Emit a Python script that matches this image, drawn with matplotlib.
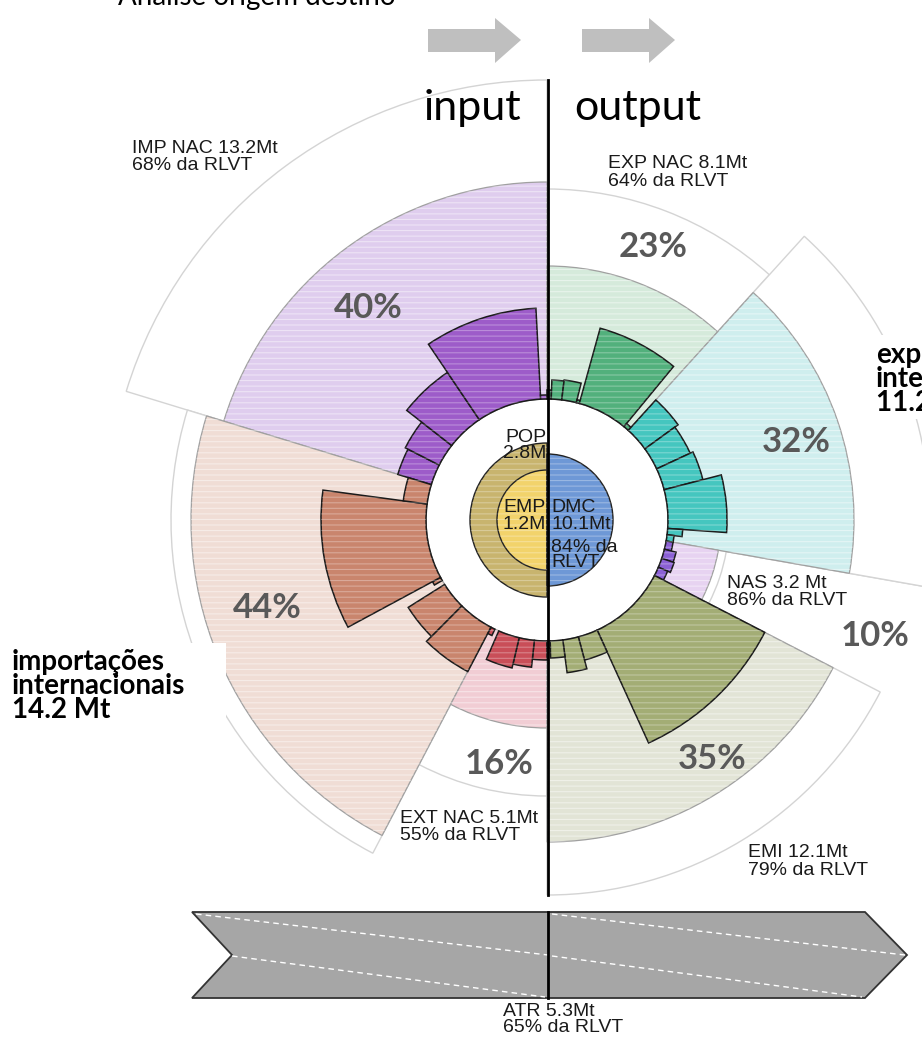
import numpy as np
import matplotlib.pyplot as plt
from matplotlib.patches import Polygon, Rectangle

plt.rcParams['hatch.linewidth'] = 0.8

W, H = 922, 1037
CX, CY = 547, 520      # centre of the wheel (px)
RMAX = 520
HOLE = 121             # white hole in the middle

# ---- sectors (degrees clockwise from top, radii in px) ----
sec_names = ['IMP NAC', 'IMP INT', 'EXT NAC', 'EXP NAC', 'EXP INT', 'NAS', 'EMI']
sec_start = [287, 207.6, 180, 0, 42.2, 100, 117.3]
sec_end = [360, 287, 207.6, 42.2, 100, 117.3, 180]
sec_light = [338, 356, 208, 254, 307, 174, 322]
sec_total = [440, 376, 276, 331, 383, 470, 375]
light_col = ['#dfcdee', '#f0ddd5', '#f1cdd4', '#d5eadb', '#cfeeee', '#e7d3f1', '#e2e4d6']
bar_col = ['#9d5cc9', '#c9856d', '#c94e58', '#52b07c', '#45c6bf', '#8b60d4', '#a3ad75']

# small bars around the hole: edges (deg) and outer radius of each bar
imp_nac_edges = [287, 297, 308, 326, 357, 360]
imp_nac_r = [156, 159, 178, 212, 125]
imp_int_edges = [207.6, 224.8, 237.8, 240, 241.7, 277.6, 287]
imp_int_r = [171, 164, HOLE, 130, 226, 145]
ext_nac_edges = [180, 186, 193.3, 203.5, 205.5, 207.5]
ext_nac_r = [140, 148, 152, HOLE, 128]
exp_nac_edges = [0, 2, 7, 14, 15.5, 39.5, 42.2]
exp_nac_r = [130, 140, 141, 124, 199, 125]
exp_int_edges = [42.2, 54, 65, 75.5, 94, 97, 100]
exp_int_r = [162, 158, 161, 180, 136, 128]
nas_edges = [100, 104, 108.5, 113, 117.3]
nas_r = [128, 133, 134, 131]
emi_edges = [117.3, 155.5, 165, 172.5, 178.5, 180]
emi_r = [245, 145, 154, 138, 128]
bar_groups = [(imp_nac_edges, imp_nac_r), (imp_int_edges, imp_int_r),
              (ext_nac_edges, ext_nac_r), (exp_nac_edges, exp_nac_r),
              (exp_int_edges, exp_int_r), (nas_edges, nas_r), (emi_edges, emi_r)]

nas_inner_ring = 182

# centre discs
pop_r, emp_r, dmc_r = 77, 50, 66

fig = plt.figure(figsize=(W / 100, H / 100), dpi=100)
ax = fig.add_axes([(CX - RMAX) / W, (H - CY - RMAX) / H, 2 * RMAX / W, 2 * RMAX / H],
                  projection='polar')
ax.set_theta_zero_location('N')
ax.set_theta_direction(-1)
ax.set_ylim(0, RMAX)
ax.set_axis_off()


def wedge(a0, a1, r, bottom=HOLE, texture=None, **kw):
    ax.bar(np.radians(a0), r - bottom, width=np.radians(a1 - a0), bottom=bottom,
           align='edge', **kw)
    if texture:
        ax.bar(np.radians(a0), r - bottom, width=np.radians(a1 - a0), bottom=bottom,
               align='edge', fill=False, hatch='---', linewidth=0,
               edgecolor=(1, 1, 1, texture), zorder=kw.get('zorder', 1) + 0.1)


# outer white wedges (NAS runs off the page: only its upper edge shows)
for i in range(len(sec_names)):
    if sec_names[i] == 'NAS':
        wedge(sec_start[i], sec_end[i], sec_total[i], color='white', linewidth=0, zorder=0.9)
        ax.plot([np.radians(sec_start[i])] * 2, [HOLE, sec_total[i]], color='#d4d4d4',
                lw=1.0, zorder=0.95)
        continue
    wedge(sec_start[i], sec_end[i], sec_total[i], color='white',
          edgecolor='#d4d4d4', linewidth=1.0, zorder=1)
wedge(sec_start[5], sec_end[5], nas_inner_ring, color='white',
      edgecolor='#d4d4d4', linewidth=1.0, zorder=1.5)

# light wedges
for i in range(len(sec_names)):
    wedge(sec_start[i], sec_end[i], sec_light[i], color=light_col[i],
          edgecolor='#a0a0a0', linewidth=0.9, zorder=2, texture=0.45)

# small bars
for g, (edges, rs) in enumerate(bar_groups):
    for k in range(len(rs)):
        if rs[k] <= HOLE:
            continue
        wedge(edges[k], edges[k + 1], rs[k], color=bar_col[g], edgecolor='#1a1a1a',
              linewidth=1.1, zorder=3, texture=0.3)

# centre
wedge(180, 360, pop_r, bottom=0, color='#c8b46e', edgecolor='#222222', linewidth=1.0,
      zorder=4, texture=0.3)
wedge(180, 360, emp_r, bottom=0, color='#f2d36b', edgecolor='#222222', linewidth=1.0,
      zorder=5, texture=0.3)
wedge(0, 180, dmc_r, bottom=0, color='#6e98d6', edgecolor='#222222', linewidth=1.0,
      zorder=5, texture=0.3)

# ---- overlay in pixel coordinates ----
ov = fig.add_axes([0, 0, 1, 1])
ov.set_xlim(0, W)
ov.set_ylim(H, 0)
ov.set_axis_off()
ov.patch.set_alpha(0)

calibri = ['Lato', 'DejaVu Sans']
arial = ['Liberation Sans', 'DejaVu Sans']

ov.text(118, 5, 'Análise origem destino', fontsize=20, family=calibri, va='baseline')

for x0 in (428, 582):
    ov.add_patch(Polygon([(x0, 29), (x0 + 67, 29), (x0 + 67, 18), (x0 + 93, 40),
                          (x0 + 67, 63), (x0 + 67, 52), (x0, 52)],
                         closed=True, color='#bfbfbf', lw=0))
ov.text(472, 120, 'input', fontsize=31, family=calibri, ha='center', va='baseline')
ov.text(638, 120, 'output', fontsize=31, family=calibri, ha='center', va='baseline')

ov.plot([548, 548], [80, 895], color='black', lw=2, zorder=10)


def label(x, y, lines, step, **kw):
    for j, s in enumerate(lines):
        ov.text(x, y + j * step, s, va='baseline', **kw)


lab = dict(fontsize=14, family=arial, color='#1a1a1a')
label(132, 153, ['IMP NAC 13.2Mt', '68% da RLVT'], 17, **lab)
label(608, 168, ['EXP NAC 8.1Mt', '64% da RLVT'], 18, **lab)
label(727, 588, ['NAS 3.2 Mt', '86% da RLVT'], 17, **lab)
label(400, 823, ['EXT NAC 5.1Mt', '55% da RLVT'], 17, **lab)
label(748, 857, ['EMI 12.1Mt', '79% da RLVT'], 18, **lab)
label(503, 1016, ['ATR 5.3Mt', '65% da RLVT'], 16, **lab)
label(546, 442, ['POP', '2.8M'], 16, ha='right', **lab)
label(546, 512, ['EMP', '1.2M'], 17, ha='right', **lab)
ov.text(551, 512, 'DMC', va='baseline', **lab)
ov.text(551, 529, '10.1Mt', va='baseline', **lab)
ov.text(551, 552, '84% da', va='baseline', **lab)
ov.text(551, 567, 'RLVT', va='baseline', **lab)

# percentages
pct_txt = ['40%', '44%', '16%', '23%', '32%', '10%', '35%']
pct_x = [368, 267, 499, 653, 796, 875, 712]
pct_y = [308, 608, 764, 247, 442, 636, 759]
for s, x, y in zip(pct_txt, pct_x, pct_y):
    ov.text(x, y, s, fontsize=25, family=calibri, fontweight='bold', color='#595959',
            ha='center', va='center')

# bold side labels on white boxes
ov.add_patch(Rectangle((0, 643), 226, 80, color='white', lw=0, zorder=6))
label(12, 670, ['importações', 'internacionais', '14.2 Mt'], 24,
      fontsize=20, family=calibri, fontweight='bold', zorder=7)
ov.add_patch(Rectangle((870, 335), 60, 84, color='white', lw=0, zorder=6))
label(876, 363, ['exportações', 'internacionais', '11.2 Mt'], 24,
      fontsize=20, family=calibri, fontweight='bold', zorder=7)

# bottom arrow
ov.add_patch(Polygon([(192, 912), (865, 912), (907, 955), (865, 998), (192, 998), (232, 955)],
                     closed=True, facecolor='#a6a6a6', edgecolor='#333333', lw=1.3))
for (xa, ya, xb, yb) in [(196, 914, 548, 955), (232, 956, 545, 997),
                         (552, 914, 905, 955), (552, 956, 862, 997)]:
    ov.plot([xa, xb], [ya, yb], color='white', lw=1, ls=(0, (4, 3)))
ov.plot([548, 548], [912, 998], color='black', lw=2)

fig.savefig('out.png', dpi=100)
